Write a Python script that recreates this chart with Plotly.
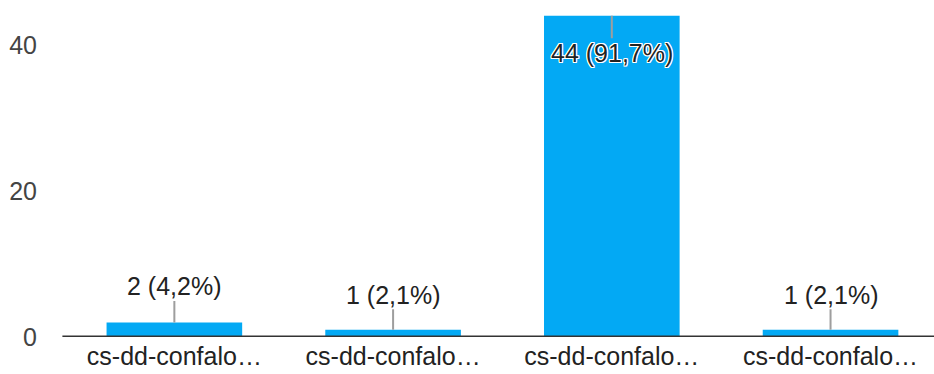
import plotly.graph_objects as go

categories = ["cs-dd-confalo…", "cs-dd-confalo…", "cs-dd-confalo…", "cs-dd-confalo…"]
values = [2, 1, 44, 1]
labels = ["2 (4,2%)", "1 (2,1%)", "44 (91,7%)", "1 (2,1%)"]
label_offsets = [-36, -35, 37, -35]
y_ticks = [0, 20, 40]

bar_color = "#03A9F4"
font_family = "Liberation Sans, Arial, sans-serif"

fig = go.Figure(go.Bar(
    x=list(range(len(categories))),
    y=values,
    width=0.62,
    marker=dict(color=bar_color, line=dict(width=0)),
    hoverinfo="skip",
))

shadow = "1px 1px 0 #fff, -1px -1px 0 #fff, 1px -1px 0 #fff, -1px 1px 0 #fff, 0 1px 0 #fff, 0 -1px 0 #fff, 1px 0 0 #fff, -1px 0 0 #fff"
for i, (v, lab, off) in enumerate(zip(values, labels, label_offsets)):
    fig.add_annotation(
        x=i, y=v, text=lab, showarrow=True, arrowhead=0, arrowwidth=2,
        arrowcolor="#9e9e9e", ax=0, ay=off, standoff=0, borderpad=0,
        font=dict(size=25, color="#222222", family=font_family, shadow=shadow),
    )

fig.update_layout(
    width=934, height=374,
    margin=dict(l=65, r=0, t=0, b=37),
    paper_bgcolor="white", plot_bgcolor="white",
    showlegend=False,
    font=dict(family=font_family),
    xaxis=dict(
        range=[-0.5, 3.473],
        tickmode="array", tickvals=list(range(len(categories))), ticktext=categories,
        tickfont=dict(size=25, color="#222222"),
        showgrid=False, showline=False, zeroline=False, ticks="", ticklabelstandoff=2,
    ),
    yaxis=dict(
        range=[0, 46.16],
        tickmode="array", tickvals=y_ticks, ticktext=[str(t) for t in y_ticks],
        tickfont=dict(size=25, color="#444444"),
        showgrid=False, zeroline=False, showline=False, ticks="", ticklabelstandoff=27,
    ),
)
fig.add_shape(type="line", xref="paper", yref="y", x0=-0.003, x1=1, y0=0, y1=0,
              line=dict(color="#333333", width=3))

fig.write_html("out.html", config={"displayModeBar": False},
               post_script="document.body.style.margin='0';document.body.style.padding='0';")
